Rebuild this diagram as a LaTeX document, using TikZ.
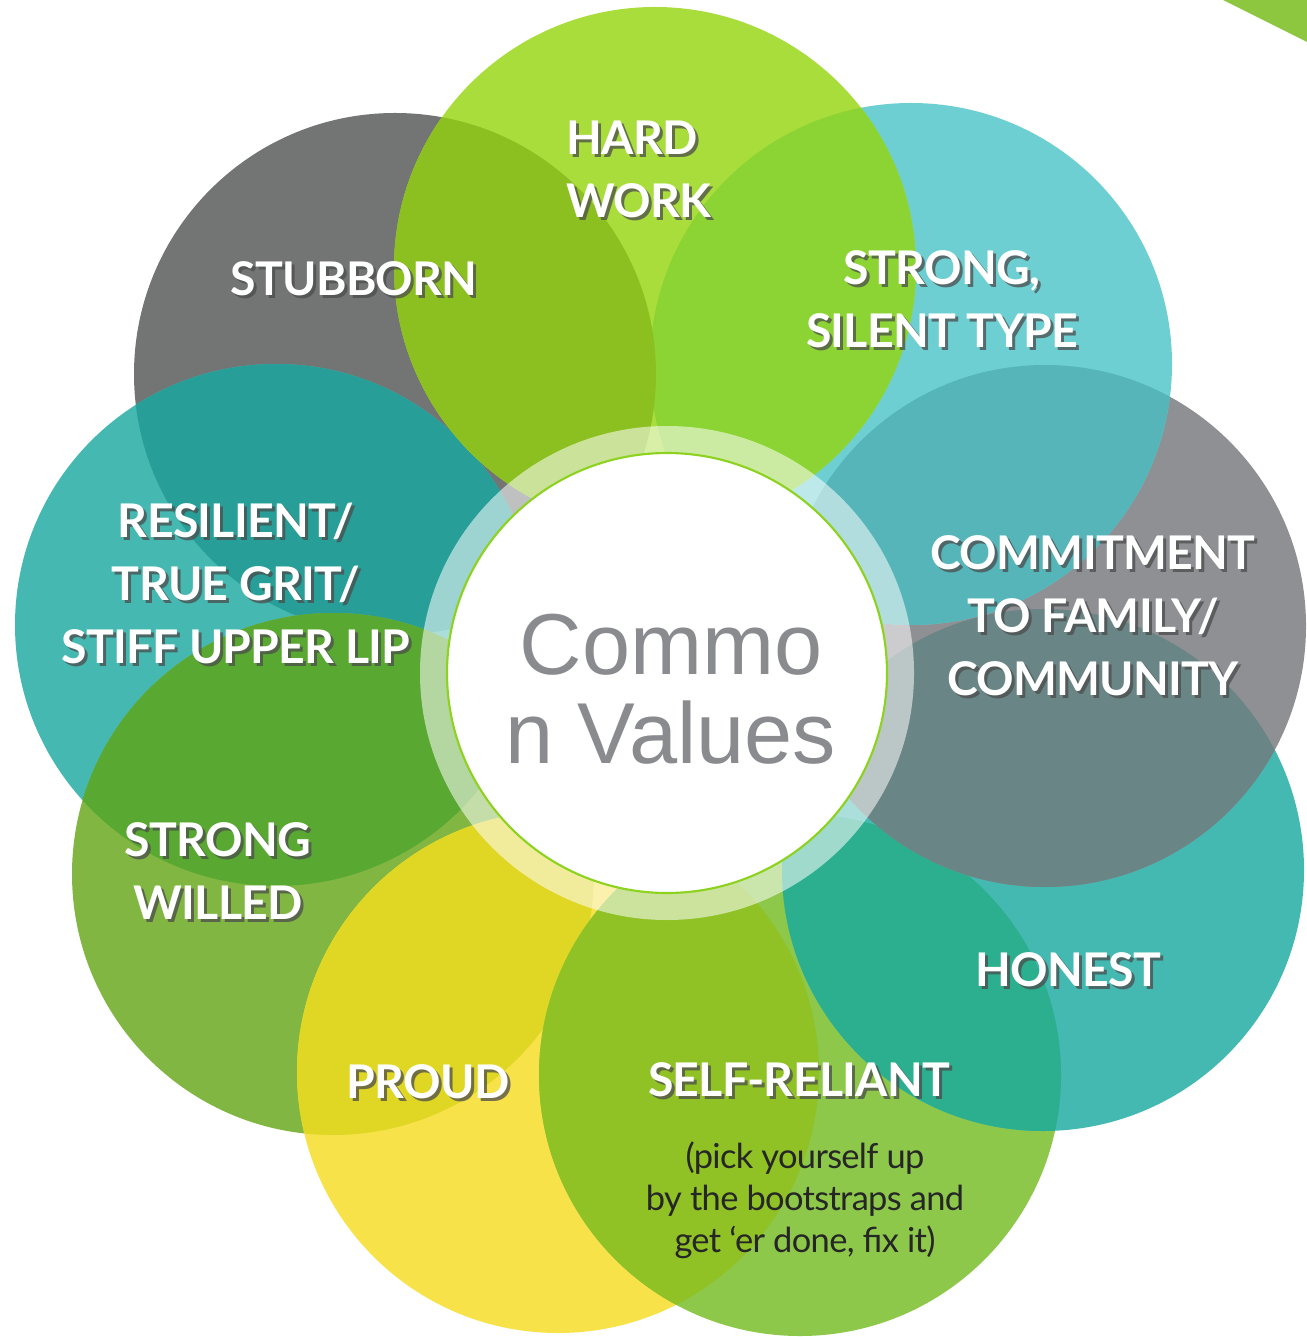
\documentclass[tikz,border=0pt]{standalone}
\usepackage{fontspec}
\setmainfont{Lato}
\newfontfamily\hubfont{Liberation Sans}

% petal colours
\definecolor{hardgreen}{HTML}{A9DD3C}
\definecolor{silentteal}{HTML}{6DCFD1}
\definecolor{commitgray}{HTML}{8F9094}
\definecolor{honestteal}{HTML}{43B9B2}
\definecolor{reliantgreen}{HTML}{8DC84A}
\definecolor{proudyellow}{HTML}{F8E24A}
\definecolor{willedgreen}{HTML}{80B641}
\definecolor{resilteal}{HTML}{45B8B1}
\definecolor{stubgray}{HTML}{737574}
% where one petal lies over the next
\definecolor{resilXstub}{HTML}{279E97}
\definecolor{willedXresil}{HTML}{59A832}
\definecolor{proudXwilled}{HTML}{E0D724}
\definecolor{reliantXproud}{HTML}{90C226}
\definecolor{honestXreliant}{HTML}{2BAF8E}
\definecolor{commitXhonest}{HTML}{6A8585}
\definecolor{silentXcommit}{HTML}{55B5B9}
\definecolor{hardXsilent}{HTML}{8CD434}
\definecolor{hardXstub}{HTML}{8CC021}
% hub and corner
\definecolor{hubgray}{HTML}{8A8B8F}
\definecolor{hubrim}{HTML}{8CD21E}
\definecolor{cornergreen}{HTML}{8DC63F}

\tikzset{
  valtext/.style={text=white, font=\bfseries\fontsize{13.2}{17.9}\selectfont\addfontfeatures{LetterSpace=-1.5}, align=#1, inner sep=0pt},
  valtext/.default=center,
  valshadow/.style={valtext=#1, text=black!70, text opacity=0.75},
  valshadow/.default=center,
  note/.style={text=black!85, font=\fontsize{9.8}{12}\selectfont\addfontfeatures{LetterSpace=-2}, align=center, inner sep=0pt},
}

\newcommand{\petalr}{261}
% lens of petal #2 lying over petal #1
\newcommand{\lens}[3]{\begin{scope}\clip (#1) circle (\petalr); \fill[#3] (#2) circle (\petalr);\end{scope}}
% white caption with its drop shadow
\newcommand{\valuelabel}[4][center]{%
  \node[valshadow=#1, shift={(3,3)}] (#2s) at (#3) {#4};
  \node[valtext=#1] (#2) at (#3) {#4};}

\begin{document}
\begin{tikzpicture}[x=0.01cm,y=-0.01cm]
  \useasboundingbox (0,0) rectangle (1307,1337);

  % petal centres
  \coordinate (stub) at (395,374);
  \coordinate (resil) at (276,625);
  \coordinate (willed) at (333,874);
  \coordinate (proud) at (558,1072);
  \coordinate (reliant) at (800,1075);
  \coordinate (honest) at (1043,870);
  \coordinate (commit) at (1045,626);
  \coordinate (silent) at (911,364);
  \coordinate (hard) at (655,268);
  \coordinate (hub) at (667,673);

  % nine petals, each one over the one before
  \fill[stubgray] (stub) circle (\petalr);
  \fill[resilteal] (resil) circle (\petalr);
  \lens{stub}{resil}{resilXstub}
  \fill[willedgreen] (willed) circle (\petalr);
  \lens{resil}{willed}{willedXresil}
  \fill[proudyellow] (proud) circle (\petalr);
  \lens{willed}{proud}{proudXwilled}
  \fill[reliantgreen] (reliant) circle (\petalr);
  \lens{proud}{reliant}{reliantXproud}
  \fill[honestteal] (honest) circle (\petalr);
  \lens{reliant}{honest}{honestXreliant}
  \fill[commitgray] (commit) circle (\petalr);
  \lens{honest}{commit}{commitXhonest}
  \fill[silentteal] (silent) circle (\petalr);
  \lens{commit}{silent}{silentXcommit}
  \fill[hardgreen] (hard) circle (\petalr);
  \lens{silent}{hard}{hardXsilent}
  \lens{stub}{hard}{hardXstub}

  % the hub
  \fill[white, fill opacity=0.55] (hub) circle (247);
  \draw[hubrim, line width=0.6pt, fill=white] (hub) circle (220);
  \node[text=hubgray, font=\hubfont\fontsize{24.6}{25.3}\selectfont, align=center, inner sep=0pt]
    (hubtext) at (671,689) {Commo\\n Values};

  % captions
  \valuelabel[left]{hardlbl}{639,169}{HARD\\WORK}
  \valuelabel{silentlbl}{942,299}{STRONG,\\SILENT TYPE}
  \valuelabel{stublbl}{354,279}{STUBBORN}
  \valuelabel{commitlbl}{1093,616}{COMMITMENT\\TO FAMILY/\\COMMUNITY}
  \valuelabel{resillbl}{236,583}{RESILIENT/\\TRUE GRIT/\\STIFF UPPER LIP}
  \valuelabel{willedlbl}{218,871}{STRONG\\WILLED}
  \valuelabel{honestlbl}{1068,970}{HONEST}
  \valuelabel{proudlbl}{428,1082}{PROUD}
  \valuelabel{reliantlbl}{799,1080}{SELF-RELIANT}
  \node[note] (reliantnote) at (805,1200) {(pick yourself up\\by the bootstraps and\\get ‘er done, fix it)};

  % corner
  \fill[cornergreen] (1223,0) -- (1307,0) -- (1307,42) -- cycle;
\end{tikzpicture}
\end{document}
